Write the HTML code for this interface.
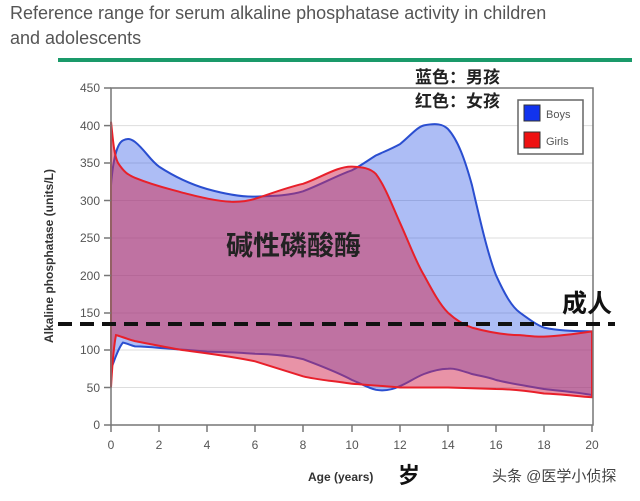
<!DOCTYPE html>
<html><head><meta charset="utf-8"><style>
body{margin:0;background:#fff;}
svg{display:block;font-family:"Liberation Sans","Noto Sans CJK SC",sans-serif;}
</style></head><body>
<svg width="640" height="501" viewBox="0 0 640 501" xmlns="http://www.w3.org/2000/svg">
<rect width="640" height="501" fill="#fff"/>
<text x="10" y="19" font-size="18" fill="#555">Reference range for serum alkaline phosphatase activity in children</text>
<text x="10" y="44" font-size="18" fill="#555">and adolescents</text>
<rect x="58" y="58" width="574" height="4" fill="#1a9a6a"/>
<g stroke="#ddd" stroke-width="1">
<line x1="111" y1="125.6" x2="593" y2="125.6"/><line x1="111" y1="163" x2="593" y2="163"/>
<line x1="111" y1="200.5" x2="593" y2="200.5"/><line x1="111" y1="238" x2="593" y2="238"/>
<line x1="111" y1="275.5" x2="593" y2="275.5"/><line x1="111" y1="313" x2="593" y2="313"/>
<line x1="111" y1="350" x2="593" y2="350"/><line x1="111" y1="387.5" x2="593" y2="387.5"/>
</g>
<path d="M111,185.3 C113,160 117,143 123,140.4 C128,138 131,139 135,141.9 C145,150 150,160 159,166.6 C175,177 190,184 207,189 C225,194 240,197 255,196.6 C270,196 288,196 303,191.3 C320,185 338,175 352,170.3 C362,165 370,159 376,155.4 C388,150 393,148 400,144.1 C410,136 417,127 424,125.4 C436,123 443,124 448,129.1 C458,140 465,160 472,185.3 C480,220 488,255 496,275.2 C505,295 512,307 520,312.7 C530,320 537,325 544,327.6 C560,331 575,331 592,331.4 L592,395 C575,392 560,391 544,389 C528,386 512,384 496,380 C488,377 480,376 472,374 C462,371 455,368 448,368.8 C440,369 432,371 424,374 C414,378 408,383 400,386 C392,390 383,391 376,389.8 C368,388 360,383 352,380 C335,371 318,365 303,359.1 C285,355 270,354 255,353.8 C235,352 220,352 207,351.6 C190,350 172,349 159,347.9 C150,347 142,346.5 135,346.4 C130,345 126,343 123,342.6 C118,348 114,362 111,368.8 Z" fill="rgba(50,90,230,0.4)" stroke="#2a4ed0" stroke-width="2"/>
<path d="M111,121.7 C113,140 114,155 118,162.9 C124,172 128,175 135,177.8 C155,186 170,189 183,192.8 C200,197 215,201 231,201.8 C240,202 248,201 255,198.8 C270,194 285,188 303,183.8 C320,178 338,166 352,166.6 C362,167 370,168 376,174.1 C385,186 392,205 400,222.8 C410,245 416,262 424,275.2 C432,290 440,305 448,312.7 C456,320 464,325 472,327.6 C488,332 505,335 520,335.1 C530,336 537,337 544,336.6 C560,336 575,334 592,331.4 L592,397.3 C575,396 560,394 544,393.5 C528,391 512,389 496,389 L448,387.5 L400,387.5 C385,386 368,385 352,383.8 C335,381 318,380 303,376.3 C286,371 270,366 255,361.3 C230,356 205,353 183,350.1 C165,347 150,344 135,341.1 C127,339 120,336 116,335.1 C113,350 112,370 111,387.5 Z" fill="rgba(210,40,80,0.5)" stroke="#e8202a" stroke-width="2"/>
<path d="M111,88 L111,425 L593,425 L593,88 Z" stroke="#777" stroke-width="1.5" fill="none"/>
<g stroke="#777" stroke-width="1.5">
<line x1="104" y1="88" x2="111" y2="88"/><line x1="104" y1="125.6" x2="111" y2="125.6"/><line x1="104" y1="163" x2="111" y2="163"/><line x1="104" y1="200.5" x2="111" y2="200.5"/><line x1="104" y1="238" x2="111" y2="238"/><line x1="104" y1="275.5" x2="111" y2="275.5"/><line x1="104" y1="313" x2="111" y2="313"/><line x1="104" y1="350" x2="111" y2="350"/><line x1="104" y1="387.5" x2="111" y2="387.5"/><line x1="104" y1="425" x2="111" y2="425"/>
<line x1="111" y1="425" x2="111" y2="432"/><line x1="159" y1="425" x2="159" y2="432"/><line x1="207" y1="425" x2="207" y2="432"/><line x1="255" y1="425" x2="255" y2="432"/><line x1="303" y1="425" x2="303" y2="432"/><line x1="352" y1="425" x2="352" y2="432"/><line x1="400" y1="425" x2="400" y2="432"/><line x1="448" y1="425" x2="448" y2="432"/><line x1="496" y1="425" x2="496" y2="432"/><line x1="544" y1="425" x2="544" y2="432"/><line x1="592" y1="425" x2="592" y2="432"/>
</g>
<g font-size="12" fill="#555" text-anchor="end">
<text x="100" y="92">450</text><text x="100" y="130">400</text><text x="100" y="167">350</text><text x="100" y="205">300</text><text x="100" y="242">250</text><text x="100" y="280">200</text><text x="100" y="317">150</text><text x="100" y="354">100</text><text x="100" y="392">50</text><text x="100" y="429">0</text>
</g>
<g font-size="12" fill="#555" text-anchor="middle">
<text x="111" y="449">0</text><text x="159" y="449">2</text><text x="207" y="449">4</text><text x="255" y="449">6</text><text x="303" y="449">8</text><text x="352" y="449">10</text><text x="400" y="449">12</text><text x="448" y="449">14</text><text x="496" y="449">16</text><text x="544" y="449">18</text><text x="592" y="449">20</text>
</g>
<text transform="translate(53,256) rotate(-90)" font-size="12" font-weight="bold" fill="#333" text-anchor="middle">Alkaline phosphatase (units/L)</text>
<text x="308" y="481" font-size="12" font-weight="bold" fill="#333">Age (years)</text>
<text x="398" y="483" font-size="22" font-weight="bold" fill="#111">岁</text>
<text x="492" y="481" font-size="15" fill="#444">头条 @医学小侦探</text>
<line x1="58" y1="324" x2="615" y2="324" stroke="#111" stroke-width="4" stroke-dasharray="14,8"/>
<text x="226" y="255" font-size="27" font-weight="bold" fill="#222">碱性磷酸酶</text>
<text x="562" y="312" font-size="25" font-weight="bold" fill="#111">成人</text>
<text x="415" y="83" font-size="17" font-weight="bold" fill="#222">蓝色：男孩</text>
<text x="415" y="107" font-size="17" font-weight="bold" fill="#222">红色：女孩</text>
<rect x="518" y="100" width="65" height="54" fill="#fff" stroke="#666" stroke-width="1.5"/>
<rect x="524" y="105" width="16" height="16" fill="#1133ee" stroke="#333"/>
<rect x="524" y="132" width="16" height="16" fill="#ee1111" stroke="#333"/>
<text x="546" y="118" font-size="11" fill="#555">Boys</text>
<text x="546" y="145" font-size="11" fill="#555">Girls</text>
</svg>
</body></html>
